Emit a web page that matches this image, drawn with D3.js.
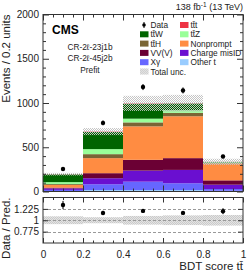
<!DOCTYPE html>
<html>
<head>
<meta charset="utf-8">
<script src="https://cdn.jsdelivr.net/npm/d3@7"></script>
<style>
  body { margin: 0; background: #fff; }
  svg { display: block; font-family: "Liberation Sans", Arial, sans-serif; }
</style>
</head>
<body>
<svg id="chart" width="249" height="275"></svg>
<script>
// bin edges of the BDT score
const binEdges = [0, 0.2, 0.4, 0.6, 0.8, 1.0];

// prefit yields per bin (stack order bottom -> top)
const otherT      = [3, 17, 17, 17, 8];
const xGamma      = [15, 65, 94, 76, 20];
const chargeMisID = [17, 68, 125, 151, 49];
const vvv         = [9, 57, 122, 133, 49];
const nonprompt   = [30, 170, 378, 473, 190];
const ttH         = [10, 45, 45, 39, 5];
const ttZ         = [22, 57, 42, 30, 8];
const ttW         = [88, 193, 168, 75, 5];
const ttt         = [2, 5, 5, 3, 1];

// total uncertainty on the prediction
const totalUnc = [15, 40, 85, 95, 35];

// observed data and its error
const data    = [255, 775, 1180, 1142, 395];
const dataErr = [16, 28, 34, 34, 20];

const ratioTicks = [0.775, 1, 1.225];
const ratioTickLabels = ["0.775", "1", "1.225"];

const processes = [
  {key: "otherT", label: "Other t", color: "#99ccff", values: otherT},
  {key: "xGamma", label: "X\u03b3", color: "#6666ff", values: xGamma},
  {key: "chargeMisID", label: "Charge misID", color: "#6a0fd0", values: chargeMisID},
  {key: "vvv", label: "VV(V)", color: "#6b0034", values: vvv},
  {key: "nonprompt", label: "Nonprompt", color: "#ff8c42", values: nonprompt},
  {key: "ttH", label: "tt\u0304H", color: "#7a6535", values: ttH},
  {key: "ttZ", label: "tt\u0304Z", color: "#99ff99", values: ttZ},
  {key: "ttW", label: "tt\u0304W", color: "#006400", values: ttW},
  {key: "ttt", label: "tt\u0304t", color: "#ee3344", values: ttt}
];

const svg = d3.select("#chart");

// pattern for the hatched uncertainty
const defs = svg.append("defs");
const pat = defs.append("pattern")
    .attr("id", "hatch")
    .attr("width", 2).attr("height", 2)
    .attr("patternUnits", "userSpaceOnUse");
pat.append("rect").attr("x", 0).attr("y", 0).attr("width", 1).attr("height", 1).attr("fill", "#c4c4c4");
pat.append("rect").attr("x", 1).attr("y", 1).attr("width", 1).attr("height", 1).attr("fill", "#c4c4c4");

// scales
const x = d3.scaleLinear().domain([0, 1]).range([43, 243]);
const y = d3.scaleLinear().domain([0, 2000]).range([191.5, 14.5]);
const yr = d3.scaleLinear().domain([0.55, 1.45]).range([243, 197.5]);

// build table for stacking
const table = data.map(function (d, i) {
  const row = {x0: binEdges[i], x1: binEdges[i + 1]};
  processes.forEach(function (p) { row[p.key] = p.values[i]; });
  return row;
});
const stack = d3.stack().keys(processes.map(function (p) { return p.key; }));
const series = stack(table);
const total = table.map(function (r) {
  return d3.sum(processes, function (p) { return r[p.key]; });
});

// stacked bars
const gStack = svg.append("g");
series.forEach(function (s, k) {
  gStack.selectAll(null)
    .data(s)
    .enter().append("rect")
    .attr("x", function (d) { return x(d.data.x0); })
    .attr("width", function (d) { return x(d.data.x1) - x(d.data.x0); })
    .attr("y", function (d) { return y(d[1]); })
    .attr("height", function (d) { return Math.max(0, y(d[0]) - y(d[1])); })
    .attr("fill", processes[k].color);
});

// uncertainty band
svg.append("g").selectAll("rect")
  .data(total)
  .enter().append("rect")
  .attr("x", function (d, i) { return x(binEdges[i]); })
  .attr("width", function (d, i) { return x(binEdges[i + 1]) - x(binEdges[i]); })
  .attr("y", function (d, i) { return y(d + totalUnc[i]); })
  .attr("height", function (d, i) { return y(d - totalUnc[i]) - y(d + totalUnc[i]); })
  .attr("fill", "url(#hatch)");

// data points
const centers = binEdges.slice(0, -1).map(function (e, i) { return (e + binEdges[i + 1]) / 2; });
const gData = svg.append("g");
gData.selectAll("line")
  .data(data)
  .enter().append("line")
  .attr("x1", function (d, i) { return x(centers[i]); })
  .attr("x2", function (d, i) { return x(centers[i]); })
  .attr("y1", function (d, i) { return y(d - dataErr[i]); })
  .attr("y2", function (d, i) { return y(d + dataErr[i]); })
  .attr("stroke", "#000").attr("stroke-width", 1);
gData.selectAll("circle")
  .data(data)
  .enter().append("circle")
  .attr("cx", function (d, i) { return x(centers[i]); })
  .attr("cy", function (d) { return y(d); })
  .attr("r", 2.2)
  .attr("fill", "#000");

// ratio panel
const ratio = data.map(function (d, i) { return d / total[i]; });
const ratioErr = dataErr.map(function (e, i) { return e / total[i]; });

svg.append("g").selectAll("rect")
  .data(total)
  .enter().append("rect")
  .attr("x", function (d, i) { return x(binEdges[i]); })
  .attr("width", function (d, i) { return x(binEdges[i + 1]) - x(binEdges[i]); })
  .attr("y", function (d, i) { return yr(1 + totalUnc[i] / d); })
  .attr("height", function (d, i) { return yr(1 - totalUnc[i] / d) - yr(1 + totalUnc[i] / d); })
  .attr("fill", "#e4e4e4");
svg.append("g").selectAll("rect")
  .data(total)
  .enter().append("rect")
  .attr("x", function (d, i) { return x(binEdges[i]); })
  .attr("width", function (d, i) { return x(binEdges[i + 1]) - x(binEdges[i]); })
  .attr("y", function (d, i) { return yr(1 + totalUnc[i] / d); })
  .attr("height", function (d, i) { return yr(1 - totalUnc[i] / d) - yr(1 + totalUnc[i] / d); })
  .attr("fill", "url(#hatch)").attr("opacity", 0.8);

svg.append("g").selectAll("line")
  .data(ratioTicks)
  .enter().append("line")
  .attr("x1", x(0)).attr("x2", x(1))
  .attr("y1", function (d) { return Math.round(yr(d)) + 0.5; })
  .attr("y2", function (d) { return Math.round(yr(d)) + 0.5; })
  .attr("stroke", "#999").attr("stroke-width", 1)
  .attr("stroke-dasharray", "3,2");

const gRatio = svg.append("g");
gRatio.selectAll("line")
  .data(ratio)
  .enter().append("line")
  .attr("x1", function (d, i) { return x(centers[i]); })
  .attr("x2", function (d, i) { return x(centers[i]); })
  .attr("y1", function (d, i) { return yr(d - ratioErr[i]); })
  .attr("y2", function (d, i) { return yr(d + ratioErr[i]); })
  .attr("stroke", "#000").attr("stroke-width", 1);
gRatio.selectAll("circle")
  .data(ratio)
  .enter().append("circle")
  .attr("cx", function (d, i) { return x(centers[i]); })
  .attr("cy", function (d) { return yr(d); })
  .attr("r", 2.2)
  .attr("fill", "#000");

// axes helper: ticks pointing inside
function ticksAxis(axisFn, scale, values, size, transform, labels) {
  const ax = axisFn(scale).tickValues(values).tickSize(-size).tickPadding(4);
  if (labels) ax.tickFormat(labels); else ax.tickFormat("");
  const g = svg.append("g").attr("transform", transform).call(ax);
  g.select(".domain").remove();
  g.selectAll("line").attr("stroke", "#333");
  g.selectAll("text").attr("fill", "#222").style("font-size", "10px")
    .style("font-family", "\"Liberation Sans\", Arial, sans-serif");
  return g;
}

const yMajor = d3.range(0, 2001, 500);
const yMinor = d3.range(0, 2001, 100).filter(function (v) { return v % 500 !== 0; });
const xMajor = d3.range(0, 1.001, 0.2);
const xMinor = d3.range(0, 1.001, 0.05).filter(function (v) { return Math.abs(v / 0.2 - Math.round(v / 0.2)) > 1e-6; });

// main panel
ticksAxis(d3.axisLeft, y, yMajor, 6, "translate(43,0)", d3.format("d"));
ticksAxis(d3.axisLeft, y, yMinor, 3, "translate(43,0)");
ticksAxis(d3.axisRight, y, yMajor, 6, "translate(243,0)");
ticksAxis(d3.axisRight, y, yMinor, 3, "translate(243,0)");
ticksAxis(d3.axisBottom, x, xMajor, 6, "translate(0,191.5)");
ticksAxis(d3.axisBottom, x, xMinor, 3, "translate(0,191.5)");
ticksAxis(d3.axisTop, x, xMajor, 6, "translate(0,14.5)");
ticksAxis(d3.axisTop, x, xMinor, 3, "translate(0,14.5)");

// ratio panel
ticksAxis(d3.axisLeft, yr, ratioTicks, 5, "translate(43,0)", function (d, i) { return ratioTickLabels[i]; });
ticksAxis(d3.axisRight, yr, ratioTicks, 5, "translate(243,0)");
ticksAxis(d3.axisBottom, x, xMajor, 5, "translate(0,243)", d3.format("~g"))
  .selectAll("text").attr("dy", "1.1em");
ticksAxis(d3.axisBottom, x, xMinor, 2.5, "translate(0,243)");
ticksAxis(d3.axisTop, x, xMajor, 5, "translate(0,197.5)");
ticksAxis(d3.axisTop, x, xMinor, 2.5, "translate(0,197.5)");

// frames
svg.append("rect").attr("x", 43).attr("y", 14.5).attr("width", 200).attr("height", 177)
  .attr("fill", "none").attr("stroke", "#333").attr("stroke-width", 1);
svg.append("rect").attr("x", 43).attr("y", 197.5).attr("width", 200).attr("height", 45.5)
  .attr("fill", "none").attr("stroke", "#333").attr("stroke-width", 1);

// titles
svg.append("text")
  .attr("transform", "translate(9.5,14.5) rotate(-90)")
  .attr("text-anchor", "end")
  .style("font-size", "11.5px").attr("fill", "#222")
  .text("Events / 0.2 units");
svg.append("text")
  .attr("transform", "translate(9.5,197.5) rotate(-90)")
  .attr("text-anchor", "end")
  .style("font-size", "11.5px").attr("fill", "#222")
  .text("Data / Pred.");
svg.append("text")
  .attr("x", 243).attr("y", 270)
  .attr("text-anchor", "end")
  .style("font-size", "11.5px").attr("fill", "#222")
  .text("BDT score tt\u0304");

const lumi = svg.append("text")
  .attr("x", 243).attr("y", 9.5)
  .attr("text-anchor", "end")
  .style("font-size", "9px").attr("fill", "#222");
lumi.append("tspan").text("138 fb");
lumi.append("tspan").attr("dy", -3).style("font-size", "6.5px").text("-1");
lumi.append("tspan").attr("dy", 3).text(" (13 TeV)");

svg.append("text")
  .attr("x", 52).attr("y", 33.5)
  .style("font-size", "12px").style("font-weight", "bold").attr("fill", "#000")
  .text("CMS");
const regions = ["CR-2\u2113-23j1b", "CR-2\u2113-45j2b", "Prefit"];
svg.append("g").selectAll("text")
  .data(regions)
  .enter().append("text")
  .attr("x", 90)
  .attr("y", function (d, i) { return 49.5 + i * 11.8; })
  .attr("text-anchor", "middle")
  .style("font-size", "8.3px").attr("fill", "#222")
  .text(function (d) { return d; });

// legend
const legendItems = [
  {label: "Data", type: "data", col: 0, row: 0},
  {label: "tt\u0304t", color: "#ee3344", col: 1, row: 0},
  {label: "tt\u0304W", color: "#006400", col: 0, row: 1},
  {label: "tt\u0304Z", color: "#99ff99", col: 1, row: 1},
  {label: "tt\u0304H", color: "#7a6535", col: 0, row: 2},
  {label: "Nonprompt", color: "#ff8c42", col: 1, row: 2},
  {label: "VV(V)", color: "#6b0034", col: 0, row: 3},
  {label: "Charge misID", color: "#6a0fd0", col: 1, row: 3},
  {label: "X\u03b3", color: "#6666ff", col: 0, row: 4},
  {label: "Other t", color: "#99ccff", col: 1, row: 4},
  {label: "Total unc.", type: "unc", col: 0, row: 5}
];
const legX = [140, 180], legY0 = 25, legDy = 9.3;
const gLeg = svg.append("g");
legendItems.forEach(function (d) {
  const lx = legX[d.col], ly = legY0 + d.row * legDy;
  if (d.type === "data") {
    gLeg.append("line").attr("x1", lx + 4).attr("x2", lx + 4)
      .attr("y1", ly - 3).attr("y2", ly + 3).attr("stroke", "#000");
    gLeg.append("circle").attr("cx", lx + 4).attr("cy", ly).attr("r", 1.8).attr("fill", "#000");
  } else if (d.type === "unc") {
    gLeg.append("rect").attr("x", lx).attr("y", ly - 3).attr("width", 8.5).attr("height", 6)
      .attr("fill", "#e2e2e2");
    gLeg.append("rect").attr("x", lx).attr("y", ly - 3).attr("width", 8.5).attr("height", 6)
      .attr("fill", "url(#hatch)").attr("opacity", 0.6);
  } else {
    gLeg.append("rect").attr("x", lx).attr("y", ly - 3).attr("width", 8.5).attr("height", 6)
      .attr("fill", d.color);
  }
  gLeg.append("text").attr("x", lx + 10.5).attr("y", ly + 3)
    .style("font-size", "8.3px").attr("fill", "#222")
    .text(d.label);
});
</script>
</body>
</html>
